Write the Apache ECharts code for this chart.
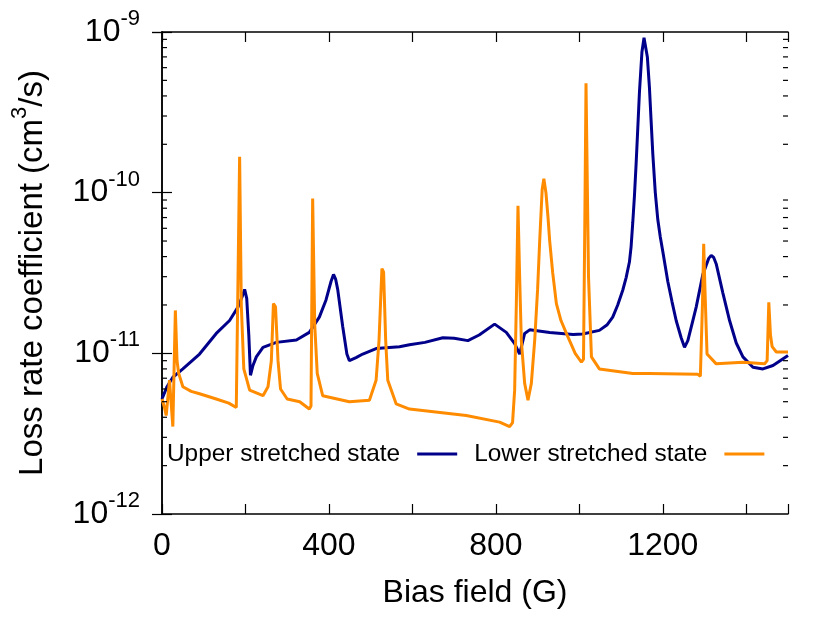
<!DOCTYPE html>
<html>
<head>
<meta charset="utf-8">
<style>
html,body{margin:0;padding:0;background:#fff;}
#chart{width:830px;height:620px;}
</style>
<script src="https://cdn.jsdelivr.net/npm/echarts@6/dist/echarts.min.js"></script>
</head>
<body>
<div id="chart"></div>
<script>
// ---- data ----
const seriesNames = ['Upper stretched state', 'Lower stretched state'];

const upperField = [0, 12, 26, 50, 90, 130, 162, 182, 192, 198, 203, 208, 212, 218, 226, 242, 274, 322, 353, 377, 393, 405, 411, 416, 421, 433, 443, 449, 465, 481, 513, 569, 593, 630, 673, 700, 733, 760, 797, 825, 845, 857, 869, 881, 929, 985, 1008, 1048, 1066, 1080, 1092, 1104, 1112, 1120, 1124, 1128, 1132, 1136, 1140, 1144, 1150, 1155, 1159, 1163, 1168, 1172, 1176, 1182, 1188, 1194, 1200, 1212, 1222, 1232, 1244, 1252, 1260, 1272, 1280, 1296, 1310, 1316, 1322, 1328, 1344, 1360, 1376, 1392, 1416, 1440, 1464, 1500];
const upperRate = [5.2e-12, 6.2e-12, 7.1e-12, 8.0e-12, 9.9e-12, 1.33e-11, 1.6e-11, 1.94e-11, 2.25e-11, 2.5e-11, 2.2e-11, 1.3e-11, 7.3e-12, 8.4e-12, 9.5e-12, 1.09e-11, 1.17e-11, 1.21e-11, 1.35e-11, 1.68e-11, 2.15e-11, 2.8e-11, 3.1e-11, 2.9e-11, 2.5e-11, 1.47e-11, 9.9e-12, 9.0e-12, 9.4e-12, 9.9e-12, 1.07e-11, 1.1e-11, 1.13e-11, 1.17e-11, 1.25e-11, 1.24e-11, 1.2e-11, 1.3e-11, 1.52e-11, 1.35e-11, 1.15e-11, 9.9e-12, 1.33e-11, 1.4e-11, 1.35e-11, 1.31e-11, 1.32e-11, 1.39e-11, 1.5e-11, 1.68e-11, 2.0e-11, 2.47e-11, 2.95e-11, 3.7e-11, 4.6e-11, 6.5e-11, 9.5e-11, 1.5e-10, 2.5e-10, 4.2e-10, 7.5e-10, 9.2e-10, 9.0e-10, 7.0e-10, 4.5e-10, 2.8e-10, 1.75e-10, 1.0e-10, 6.8e-11, 5.3e-11, 4.3e-11, 2.8e-11, 2.1e-11, 1.6e-11, 1.25e-11, 1.09e-11, 1.2e-11, 1.6e-11, 1.94e-11, 3.1e-11, 3.9e-11, 4.07e-11, 3.95e-11, 3.6e-11, 2.37e-11, 1.6e-11, 1.16e-11, 9.5e-12, 8.2e-12, 8.0e-12, 8.4e-12, 9.7e-12];

const lowerField = [0, 6, 10, 18, 26, 32, 36, 40, 50, 70, 90, 130, 160, 178, 182, 186, 190, 196, 210, 242, 254, 262, 267, 272, 278, 284, 300, 330, 353, 357, 361, 366, 372, 385, 449, 497, 513, 520, 527, 531, 536, 541, 561, 593, 729, 809, 833, 840, 845, 849, 853, 857, 861, 869, 877, 885, 893, 900, 905, 911, 915, 920, 925, 929, 936, 945, 956, 969, 990, 1005, 1010, 1013, 1016, 1019, 1022, 1029, 1048, 1128, 1168, 1284, 1290, 1295, 1298, 1301, 1306, 1328, 1392, 1444, 1450, 1454, 1458, 1462, 1472, 1500];
const lowerRate = [5.2e-12, 4.6e-12, 4.1e-12, 6.8e-12, 3.5e-12, 1.85e-11, 9e-12, 7.5e-12, 6.2e-12, 5.8e-12, 5.6e-12, 5.2e-12, 4.9e-12, 4.6e-12, 4.7e-12, 1.67e-10, 2.0e-11, 8e-12, 5.9e-12, 5.45e-12, 6.2e-12, 9e-12, 2.04e-11, 1.95e-11, 9e-12, 6e-12, 5.2e-12, 5.0e-12, 4.5e-12, 4.7e-12, 9.2e-11, 1.5e-11, 7.5e-12, 5.45e-12, 5.0e-12, 5.1e-12, 6.8e-12, 1.2e-11, 3.37e-11, 3.2e-11, 1.2e-11, 6.8e-12, 4.85e-12, 4.5e-12, 4.1e-12, 3.73e-12, 3.5e-12, 3.7e-12, 5.9e-12, 2e-11, 8.3e-11, 3e-11, 1.2e-11, 6.5e-12, 5.1e-12, 6.5e-12, 1.2e-11, 2.5e-11, 5.0e-11, 1.05e-10, 1.22e-10, 1.0e-10, 7.0e-11, 5.0e-11, 3.2e-11, 2.04e-11, 1.6e-11, 1.33e-11, 1.0e-11, 8.8e-12, 9.2e-12, 6e-11, 4.8e-10, 4.8e-10, 3e-11, 9.5e-12, 8.0e-12, 7.5e-12, 7.5e-12, 7.4e-12, 7.2e-12, 2e-11, 4.8e-11, 2.5e-11, 9.9e-12, 8.6e-12, 8.8e-12, 8.6e-12, 9e-12, 2.08e-11, 1.3e-11, 1.1e-11, 1.02e-11, 1.02e-11];

const xTickLabels = [0, 400, 800, 1200];
const yDecades = [1e-12, 1e-11, 1e-10, 1e-9];
const minorMultipliers = [2, 3, 4, 5, 6, 7, 8, 9];

const xName = 'Bias field (G)';
const yNameMain = 'Loss rate coefficient (cm';
const yNameSup = '3';
const yNameTail = '/s)';

// ---- build ----
const FONT = '"Liberation Sans", Arial, Helvetica, sans-serif';
const zip = (xs, ys) => xs.map((x, i) => [x, ys[i]]);

const minorTickData = [];
for (let d = 0; d < yDecades.length - 1; d++) {
  for (const m of minorMultipliers) {
    minorTickData.push([0, m * yDecades[d]]);
    minorTickData.push([1, m * yDecades[d]]);
  }
}

const chart = echarts.init(document.getElementById('chart'), null, {renderer: 'canvas'});

const axisLineStyle = {color: '#000', width: 1.5};
const tickStyle = {color: '#000', width: 1.2};

const option = {
  animation: false,
  backgroundColor: '#fff',
  textStyle: {fontFamily: FONT},
  grid: {left: 162, right: 42, top: 32, bottom: 106, containLabel: false},
  legend: {
    data: seriesNames,
    left: 162,
    top: 437,
    align: 'right',
    icon: 'rect',
    itemWidth: 40,
    itemHeight: 3,
    itemGap: 17,
    textStyle: {fontFamily: FONT, fontSize: 24.4, color: '#000', padding: [0, 12, 0, 0]}
  },
  xAxis: [{
    type: 'value', position: 'bottom', min: 0, max: 1500, interval: 200,
    name: xName, nameLocation: 'middle', nameGap: 63,
    nameTextStyle: {fontFamily: FONT, fontSize: 32, color: '#000'},
    axisLine: {show: true, lineStyle: axisLineStyle},
    axisTick: {show: true, inside: true, length: 10, lineStyle: tickStyle},
    axisLabel: {
      fontFamily: FONT, fontSize: 32, color: '#000', margin: 16,
      formatter: v => (xTickLabels.indexOf(v) >= 0 ? String(v) : '')
    },
    splitLine: {show: false}
  }, {
    type: 'value', position: 'top', min: 0, max: 1500, interval: 200,
    axisLine: {show: true, lineStyle: axisLineStyle},
    axisTick: {show: true, inside: true, length: 10, lineStyle: tickStyle},
    axisLabel: {show: false},
    splitLine: {show: false}
  }],
  yAxis: [{
    type: 'log', logBase: 10, min: yDecades[0], max: yDecades[yDecades.length - 1], position: 'left',
    name: '{t|' + yNameMain + '}{s|' + yNameSup + '}{t|' + yNameTail + '}',
    nameLocation: 'middle', nameGap: 105.5, nameRotate: 90,
    nameTextStyle: {
      color: '#000',
      rich: {
        t: {fontFamily: FONT, fontSize: 33, color: '#000', lineHeight: 48},
        s: {fontFamily: FONT, fontSize: 22, color: '#000', lineHeight: 16, verticalAlign: 'top'}
      }
    },
    axisLine: {show: true, lineStyle: axisLineStyle},
    axisTick: {show: true, inside: true, length: 10, lineStyle: tickStyle},
    axisLabel: {
      margin: 22,
      formatter: v => '{b|10}{s|' + String(Math.round(Math.log10(v))) + '}',
      rich: {
        b: {fontFamily: FONT, fontSize: 32, color: '#000', lineHeight: 48},
        s: {fontFamily: FONT, fontSize: 22, color: '#000', lineHeight: 20, verticalAlign: 'top'}
      }
    },
    splitLine: {show: false}
  }, {
    type: 'log', logBase: 10, min: yDecades[0], max: yDecades[yDecades.length - 1], position: 'right',
    axisLine: {show: true, lineStyle: axisLineStyle},
    axisTick: {show: true, inside: true, length: 10, lineStyle: tickStyle},
    axisLabel: {show: false},
    splitLine: {show: false}
  }],
  series: [{
    name: seriesNames[0], type: 'line', xAxisIndex: 0, yAxisIndex: 0,
    data: zip(upperField, upperRate),
    showSymbol: false, symbol: 'none', smooth: false,
    lineStyle: {color: '#00008b', width: 3},
    itemStyle: {color: '#00008b'},
    z: 2
  }, {
    name: seriesNames[1], type: 'line', xAxisIndex: 0, yAxisIndex: 0,
    data: zip(lowerField, lowerRate),
    showSymbol: false, symbol: 'none', smooth: false,
    lineStyle: {color: '#ff8c00', width: 3},
    itemStyle: {color: '#ff8c00'},
    z: 3
  }, {
    name: 'minorTicks', type: 'custom', xAxisIndex: 0, yAxisIndex: 0,
    silent: true, clip: false, z: 4,
    data: minorTickData,
    renderItem: function (params, api) {
      const side = api.value(0);
      const v = api.value(1);
      const p = api.coord([side === 0 ? 0 : 1500, v]);
      const len = 5;
      const dx = side === 0 ? len : -len;
      return {
        type: 'line',
        shape: {x1: p[0], y1: p[1], x2: p[0] + dx, y2: p[1]},
        style: {stroke: '#000', lineWidth: 1.2}
      };
    }
  }]
};

chart.setOption(option);
</script>
</body>
</html>
